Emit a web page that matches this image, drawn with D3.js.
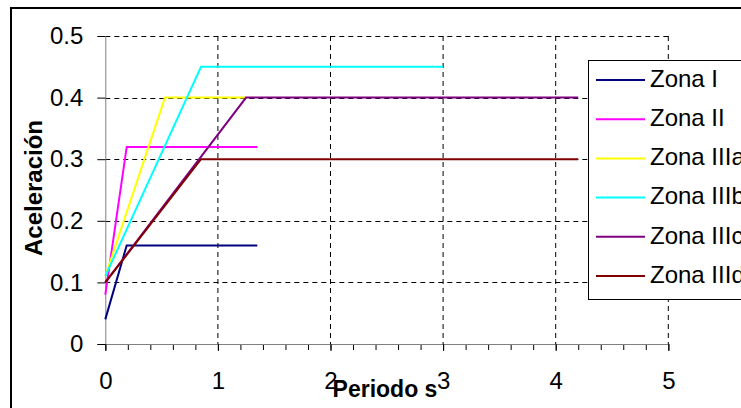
<!DOCTYPE html>
<html>
<head>
<meta charset="utf-8">
<script src="https://cdn.jsdelivr.net/npm/d3@7"></script>
<style>
  body { margin: 0; background: #fff; }
  svg text { font-family: "Liberation Sans", Arial, sans-serif; }
</style>
</head>
<body>
<div id="chart"></div>
<script>
// series names + colours
var zoneNames = ["Zona I", "Zona II", "Zona IIIa", "Zona IIIb", "Zona IIIc", "Zona IIId"];
var zoneColors = ["#000080", "#ff00ff", "#ffff00", "#00ffff", "#800080", "#800000"];

// periods (s) and accelerations
var zonaI_T = [0, 0.19, 1.35];
var zonaI_A = [0.04, 0.16, 0.16];
var zonaII_T = [0, 0.19, 1.35];
var zonaII_A = [0.08, 0.32, 0.32];
var zonaIIIa_T = [0, 0.53, 1.25];
var zonaIIIa_A = [0.11, 0.40, 0.40];
var zonaIIIb_T = [0, 0.85, 3.0];
var zonaIIIb_A = [0.11, 0.45, 0.45];
var zonaIIIc_T = [0, 1.25, 4.2];
var zonaIIIc_A = [0.10, 0.40, 0.40];
var zonaIIId_T = [0, 0.85, 4.2];
var zonaIIId_A = [0.10, 0.30, 0.30];

var xTicks = [0, 1, 2, 3, 4, 5];
var xMinorTicks = d3.range(0, 5.01, 0.2);
var yTicks = [0, 0.1, 0.2, 0.3, 0.4, 0.5];

var svgWidth = 741;
var svgHeight = 408;

var plot = { left: 105.3, right: 668.3, top: 36, bottom: 344 };

var svg = d3.select("#chart")
    .append("svg")
    .attr("width", svgWidth)
    .attr("height", svgHeight);

// outer frame
svg.append("rect")
    .attr("x", 11)
    .attr("y", 8)
    .attr("width", 900)
    .attr("height", 600)
    .attr("fill", "#fff")
    .attr("stroke", "#000")
    .attr("stroke-width", 2);

var xScale = d3.scaleLinear().domain([0, 5]).range([plot.left, plot.right]);
var yScale = d3.scaleLinear().domain([0, 0.5]).range([plot.bottom, plot.top]);

// grid
svg.append("g")
    .selectAll("line")
    .data(yTicks.slice(1))
    .enter()
    .append("line")
    .attr("x1", plot.left)
    .attr("x2", plot.right)
    .attr("y1", d => Math.round(yScale(d)) + 0.5)
    .attr("y2", d => Math.round(yScale(d)) + 0.5)
    .attr("stroke", "#000")
    .attr("stroke-dasharray", "5,4");

svg.append("g")
    .selectAll("line")
    .data(xTicks.slice(1))
    .enter()
    .append("line")
    .attr("x1", d => xScale(d))
    .attr("x2", d => xScale(d))
    .attr("y1", plot.top)
    .attr("y2", plot.bottom)
    .attr("stroke", "#000")
    .attr("stroke-dasharray", "5,4");

// axes
var leftAxis = d3.axisLeft(yScale)
    .tickValues(yTicks)
    .tickSize(8)
    .tickPadding(14)
    .tickFormat(d => d === 0 ? "0" : d3.format(".1f")(d));

var yaxis = svg.append("g")
    .attr("transform", `translate(${plot.left}, 0)`)
    .call(leftAxis);

var minorAxis = d3.axisBottom(xScale)
    .tickValues(xMinorTicks)
    .tickSize(6)
    .tickFormat("");

svg.append("g")
    .attr("transform", `translate(0, ${plot.bottom})`)
    .call(minorAxis);

var bottomAxis = d3.axisBottom(xScale)
    .tickValues(xTicks)
    .tickSize(7)
    .tickPadding(21)
    .tickFormat(d3.format("d"));

var xaxis = svg.append("g")
    .attr("transform", `translate(0, ${plot.bottom})`)
    .call(bottomAxis);

svg.selectAll(".domain").attr("stroke", "#808080");
svg.selectAll(".tick line").attr("stroke", "#000");
svg.selectAll(".tick text")
    .attr("fill", "#000")
    .style("font-size", "24px");

// series
var zoneData = [
    d3.zip(zonaI_T, zonaI_A),
    d3.zip(zonaII_T, zonaII_A),
    d3.zip(zonaIIIa_T, zonaIIIa_A),
    d3.zip(zonaIIIb_T, zonaIIIb_A),
    d3.zip(zonaIIIc_T, zonaIIIc_A),
    d3.zip(zonaIIId_T, zonaIIId_A)
];

var line = d3.line()
    .x(d => xScale(d[0]))
    .y(d => yScale(d[1]));

svg.append("g")
    .selectAll("path")
    .data(zoneData)
    .enter()
    .append("path")
    .attr("d", line)
    .attr("fill", "none")
    .attr("stroke", (d, i) => zoneColors[i])
    .attr("stroke-width", 2);

// axis titles
svg.append("text")
    .attr("transform", "translate(42, 188) rotate(-90)")
    .attr("text-anchor", "middle")
    .style("font-size", "24px")
    .style("font-weight", "bold")
    .text("Aceleración");

svg.append("text")
    .attr("x", 385)
    .attr("y", 397)
    .attr("text-anchor", "middle")
    .style("font-size", "23px")
    .style("font-weight", "bold")
    .text("Periodo s");

// legend
var legend = svg.append("g");

legend.append("rect")
    .attr("x", 588.5)
    .attr("y", 60.5)
    .attr("width", 300)
    .attr("height", 239)
    .attr("fill", "#fff")
    .attr("stroke", "#000");

var items = legend.selectAll("g.item")
    .data(zoneNames)
    .enter()
    .append("g")
    .attr("class", "item")
    .attr("transform", (d, i) => `translate(0, ${80 + i * 39.2})`);

items.append("line")
    .attr("x1", 596)
    .attr("x2", 645)
    .attr("stroke", (d, i) => zoneColors[i])
    .attr("stroke-width", 2);

items.append("text")
    .attr("x", 650)
    .attr("dy", "0.28em")
    .style("font-size", "24px")
    .text(d => d);
</script>
</body>
</html>
